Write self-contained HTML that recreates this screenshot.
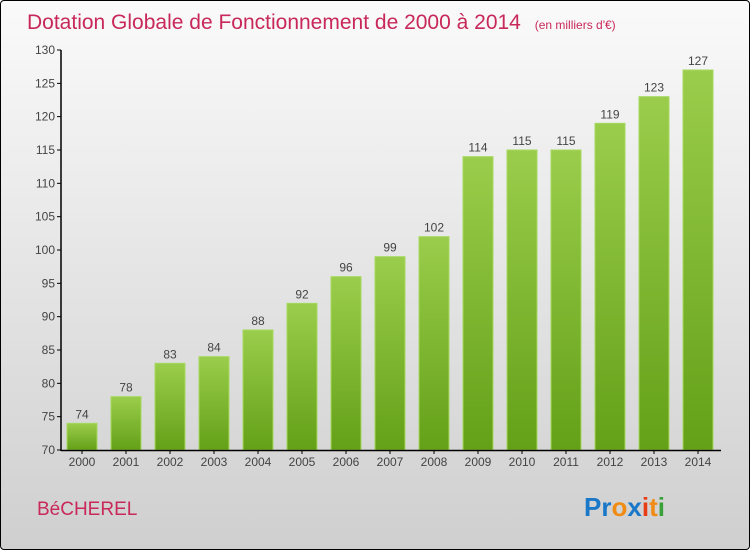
<!DOCTYPE html>
<html><head><meta charset="utf-8"><style>
body{margin:0;}
#wrap{position:relative;width:748px;height:548px;border:1px solid #000;border-radius:4px;background:linear-gradient(#fafafa,#cfcfcf);overflow:hidden;font-family:"Liberation Sans",sans-serif;}
</style></head><body>
<div id="wrap">
<svg id="chart" width="748" height="548">
<defs><linearGradient id="g" x1="0" y1="0" x2="0" y2="1"><stop offset="0" stop-color="#9acd4b"/><stop offset="1" stop-color="#64a018"/></linearGradient></defs>
<text x="26" y="28" font-size="21" fill="#c8285a">Dotation Globale de Fonctionnement de 2000 à 2014 <tspan font-size="12" dx="8">(en milliers d'€)</tspan></text>
<text x="36" y="514" font-size="19" fill="#c8285a">BéCHEREL</text>
<text x="583" y="515" font-size="26" font-weight="bold"><tspan fill="#1a78c8">Pr</tspan><tspan fill="#f08c14">o</tspan><tspan fill="#1a78c8">x</tspan><tspan fill="#e83c14">i</tspan><tspan fill="#f08c14">t</tspan><tspan fill="#3aa03a">i</tspan></text>
<g id="plot"></g>
</svg>
</div>
<script>
const years=["2000","2001","2002","2003","2004","2005","2006","2007","2008","2009","2010","2011","2012","2013","2014"];
const values=[74,78,83,84,88,92,96,99,102,114,115,115,119,123,127];
const yTicks=[70,75,80,85,90,95,100,105,110,115,120,125,130];
const ns="http://www.w3.org/2000/svg";
const g=document.getElementById('plot');
const y=v=>449-(v-70)*400/60;
const x=i=>81+i*44;
function mk(t,a){const e=document.createElementNS(ns,t);for(const k in a)e.setAttribute(k,a[k]);g.appendChild(e);return e;}
yTicks.forEach(v=>{
 const l=mk('line',{x1:56,x2:60,y1:y(v),y2:y(v),stroke:'#000'});
 
 
 const t=mk('text',{x:54,y:y(v)+4,'text-anchor':'end','font-size':12,fill:'#444'});t.textContent=v;
 
 
});
values.forEach((v,i)=>{
 const r=mk('rect',{x:x(i)-15,y:y(v),width:30,height:449-y(v),fill:'url(#g)',stroke:'#a6d860','stroke-width':1});
 
 
 const t=mk('text',{x:x(i),y:y(v)-5,'text-anchor':'middle','font-size':12,fill:'#444'});t.textContent=v;
 
 
 const tl=mk('line',{x1:x(i),x2:x(i),y1:449,y2:453,stroke:'#000'});
 
 
 const xt=mk('text',{x:x(i),y:465,'text-anchor':'middle','font-size':12,fill:'#444'});xt.textContent=years[i];
 
 
});
const ya=mk('line',{x1:60,x2:60,y1:49,y2:450,stroke:'#000','stroke-width':1.5});


const xa=mk('line',{x1:60,x2:720,y1:449.5,y2:449.5,stroke:'#000','stroke-width':1.5});


</script>
</body></html>
